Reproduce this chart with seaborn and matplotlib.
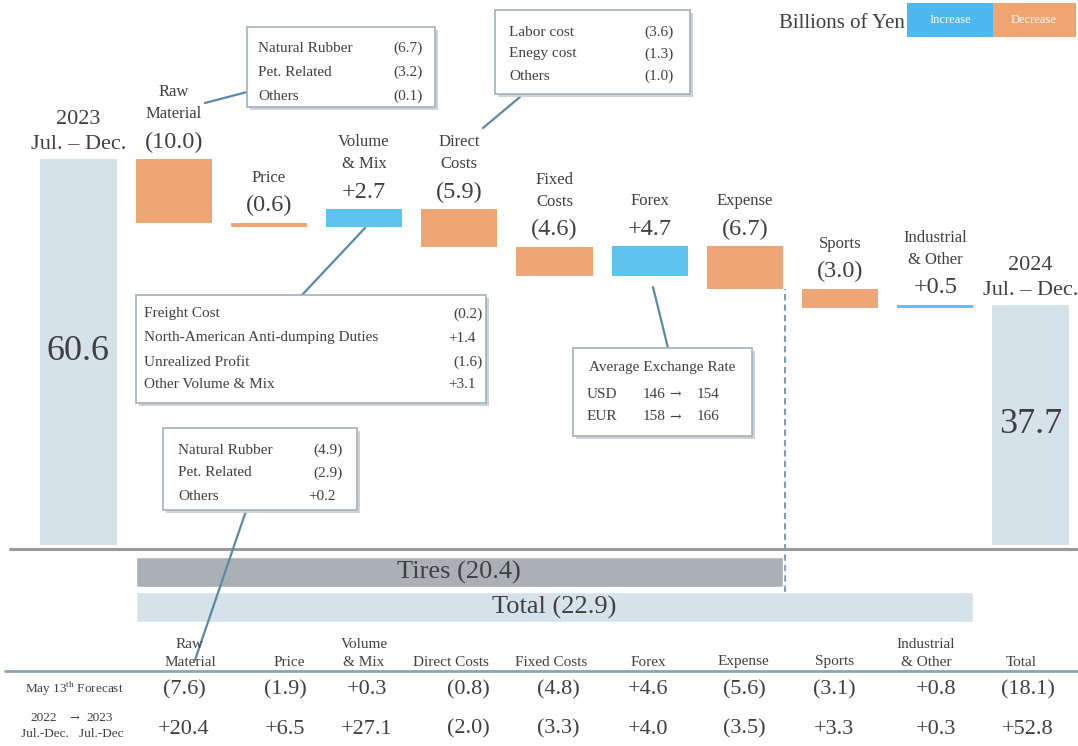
import matplotlib
matplotlib.use("Agg")
import matplotlib.pyplot as plt
import matplotlib.transforms as mtransforms
from matplotlib.patches import Rectangle
import numpy as np
import pandas as pd
import seaborn as sns

# ---------------------------------------------------------------- data
steps = ["2023\nJul. – Dec.", "Raw\nMaterial", "Price", "Volume\n& Mix",
         "Direct\nCosts", "Fixed\nCosts", "Forex", "Expense", "Sports",
         "Industrial\n& Other", "2024\nJul. – Dec."]
start_value = 60.6
changes = [-10.0, -0.6, 2.7, -5.9, -4.6, 4.7, -6.7, -3.0, 0.5]
end_value = 37.7
tires_change = -20.4
total_change = -22.9

raw_items = ["Natural Rubber", "Pet. Related", "Others"]
raw_values = [-6.7, -3.2, -0.1]
direct_items = ["Labor cost", "Enegy cost", "Others"]
direct_values = [-3.6, -1.3, -1.0]
volume_items = ["Freight Cost", "North-American Anti-dumping Duties",
                "Unrealized Profit", "Other Volume & Mix"]
volume_values = [-0.2, 1.4, -1.6, 3.1]
raw_prev_items = ["Natural Rubber", "Pet. Related", "Others"]
raw_prev_values = [-4.9, -2.9, 0.2]
fx_currencies = ["USD", "EUR"]
fx_before = [146, 158]
fx_after = [154, 166]

table_columns = ["Raw\nMaterial", "Price", "Volume\n& Mix", "Direct Costs",
                 "Fixed Costs", "Forex", "Expense", "Sports",
                 "Industrial\n& Other", "Total"]
forecast_may13 = [-7.6, -1.9, 0.3, -0.8, -4.8, 4.6, -5.6, -3.1, 0.8, -18.1]
yoy_2022_2023 = [20.4, 6.5, 27.1, -2.0, -3.3, 4.0, -3.5, 3.3, 0.3, 52.8]

# ---------------------------------------------------------------- style
sns.set_style("white")
plt.rcParams["font.family"] = ["Liberation Serif", "DejaVu Serif"]
plt.rcParams["mathtext.fontset"] = "custom"
plt.rcParams["mathtext.rm"] = "Liberation Serif"

TXT = "#404040"
C_TOTAL = "#d6e2e9"
C_UP = "#5cc4ef"
C_DOWN = "#eea677"
C_TIRES = "#aab0b6"
C_EDGE = "#9fb2bf"
C_LINK = "#5b8aa5"
ARROW_FONT = ["DejaVu Serif"]


def fmt(v):
    return f"({abs(v):.1f})" if v < 0 else f"+{v:.1f}"


# ---------------------------------------------------------------- waterfall geometry
running = np.concatenate([[start_value], start_value + np.cumsum(changes)])
bottoms = [0.0]
heights = [start_value]
colors = [C_TOTAL]
for prev, ch in zip(running[:-1], changes):
    bottoms.append(min(prev, prev + ch))
    heights.append(abs(ch))
    colors.append(C_UP if ch > 0 else C_DOWN)
bottoms.append(0.0)
heights.append(end_value)
colors.append(C_TOTAL)
tops = [b + h for b, h in zip(bottoms, heights)]

df = pd.DataFrame({"step": steps, "height": heights})

W, H = 1078, 746
fig = plt.figure(figsize=(W / 100, H / 100), dpi=100)
ax = fig.add_axes([0, 0, 1, 1])

sns.barplot(data=df, x="step", y="height", order=steps, bottom=bottoms,
            width=0.8, color=C_TOTAL, errorbar=None, ax=ax, zorder=2)
for patch, c in zip(ax.patches, colors):
    patch.set_facecolor(c)
    patch.set_edgecolor("none")

# scale: value 0 sits at pixel row 545, 6.37 px per billion yen
PXU, BASE, STEP, FIRST = 6.37, 545, 95.2, 78.5
ax.set_xlim(-FIRST / STEP, (W - FIRST) / STEP)
ax.set_ylim((BASE - H) / PXU, BASE / PXU)
ax.axis("off")

# pixel coordinates (origin top-left) for annotations
P = mtransforms.Affine2D().scale(1 / W, -1 / H).translate(0, 1) + fig.transFigure


def px_to_val(p):
    return (BASE - p) / PXU


# labels above bars
n = len(steps)
for i, (name, top) in enumerate(zip(steps, tops)):
    lines = name.split("\n")
    if i in (0, n - 1):
        ax.annotate(lines[1], (i, top), xytext=(0, 14 * 0.72), textcoords="offset points",
                    ha="center", va="center", fontsize=16, color=TXT)
        ax.annotate(lines[0], (i, top), xytext=(0, 39 * 0.72), textcoords="offset points",
                    ha="center", va="center", fontsize=16, color=TXT)
        val = start_value if i == 0 else end_value
        ax.text(i, top / 2, f"{val:.1f}", ha="center", va="center",
                fontsize=26, color=TXT, zorder=3)
    else:
        ax.annotate(fmt(changes[i - 1]), (i, top), xytext=(0, 17 * 0.72),
                    textcoords="offset points", ha="center", va="center",
                    fontsize=17.5, color=TXT)
        for k, ln in enumerate(reversed(lines)):
            ax.annotate(ln, (i, top), xytext=(0, (45 + 22 * k) * 0.72),
                        textcoords="offset points", ha="center", va="center",
                        fontsize=12, color=TXT)

# zero line
ax.plot([10, W], [549, 549], color="#9a9a9a", lw=2.2, transform=P, zorder=1)

# segment summary bars (Tires / Total)
seg_rows = [px_to_val(572), px_to_val(607)]
seg_left = 1 - 0.4
seg_right = [7 + 0.4, 9 + 0.4]
ax.barh(seg_rows, [r - seg_left for r in seg_right], left=seg_left,
        height=30 / PXU, color=[C_TIRES, C_TOTAL], zorder=2)
ax.text((seg_left + seg_right[0]) / 2, seg_rows[0], f"Tires {fmt(tires_change)}",
        ha="center", va="center", fontsize=19, color=TXT, zorder=3)
ax.text((seg_left + seg_right[1]) / 2, seg_rows[1], f"Total {fmt(total_change)}",
        ha="center", va="center", fontsize=19, color=TXT, zorder=3)

# dashed divider after Expense
ax.vlines(7 + 0.42, seg_rows[0] - 20 / PXU, running[7], colors="#7f9bb0",
          linestyles=(0, (3, 2)), lw=1.5, zorder=1)


# ---------------------------------------------------------------- callouts
def box(x0, y0, x1, y1):
    fig.add_artist(Rectangle((x0 + 3, y0 + 3), x1 - x0, y1 - y0, transform=P,
                             facecolor="#cfd3d6", edgecolor="none", zorder=4))
    fig.add_artist(Rectangle((x0, y0), x1 - x0, y1 - y0, transform=P,
                             facecolor="white", edgecolor=C_EDGE, lw=1.2, zorder=5))


def link(x0, y0, x1, y1):
    fig.add_artist(plt.Line2D([x0, x1], [y0, y1], transform=P, color=C_LINK,
                              lw=1.6, zorder=3))


def rows(items, values, lx, vx, ys):
    for it, v, y in zip(items, values, ys):
        fig.text(lx, y, it, transform=P, ha="left", va="center",
                 fontsize=11, color=TXT, zorder=6)
        fig.text(vx + (7 if v < 0 else 0), y, fmt(v), transform=P, ha="right",
                 va="center", fontsize=11, color=TXT, zorder=6)


link(205, 103, 247, 92)
box(247, 27, 435, 107)
rows(raw_items, raw_values, 258, 416, [48, 72, 96])

link(520, 97, 483, 128)
box(495, 10, 690, 94)
rows(direct_items, direct_values, 509, 667, [32, 54, 76])

link(302, 295, 365, 228)
box(136, 295, 486, 403)
rows(volume_items, volume_values, 144, 476, [314, 338, 362, 385])

link(653, 287, 668, 348)
box(573, 348, 752, 436)
fig.text(662, 368, "Average Exchange Rate", transform=P, ha="center", va="center",
         fontsize=11, color=TXT, zorder=6)
for cur, a, b, y in zip(fx_currencies, fx_before, fx_after, [394, 417]):
    fig.text(587, y, cur, transform=P, ha="left", va="center", fontsize=11, color=TXT, zorder=6)
    fig.text(643, y, f"{a}", transform=P, ha="left", va="center", fontsize=11, color=TXT, zorder=6)
    fig.text(669, y, "→", transform=P, ha="left", va="center", fontsize=10,
             color=TXT, zorder=6, family=ARROW_FONT)
    fig.text(697, y, f"{b}", transform=P, ha="left", va="center", fontsize=11, color=TXT, zorder=6)

link(247, 508, 195, 660)
box(163, 428, 357, 510)
rows(raw_prev_items, raw_prev_values, 178, 336, [450, 473, 497])

# ---------------------------------------------------------------- unit + legend
fig.text(905, 23, "Billions of Yen", transform=P, ha="right", va="center",
         fontsize=15, color=TXT)
fig.add_artist(Rectangle((907, 3), 86, 34, transform=P, facecolor="#4db7f0", edgecolor="none"))
fig.add_artist(Rectangle((993, 3), 83, 34, transform=P, facecolor="#f0a470", edgecolor="none"))
fig.text(950, 20, "Increase", transform=P, ha="center", va="center", fontsize=9, color="white")
fig.text(1034, 20, "Decrease", transform=P, ha="center", va="center", fontsize=9, color="white")

# ---------------------------------------------------------------- comparison table
head_x = [190, 289, 364, 451, 551, 648, 743, 835, 926, 1021]
val_x = [184, 285, 367, 468, 558, 648, 744, 834, 936, 1028]
for col, hx in zip(table_columns, head_x):
    parts = col.split("\n")
    for k, ln in enumerate(reversed(parts)):
        fig.text(hx, 662 - 18 * k, ln, transform=P, ha="center", va="center",
                 fontsize=11, color=TXT)
fig.add_artist(plt.Line2D([5, W], [671, 671], transform=P, color="#8fa3b3", lw=2))

for v, vx in zip(forecast_may13, val_x):
    fig.text(vx, 690, fmt(v), transform=P, ha="center", va="center", fontsize=16, color=TXT)
for v, vx in zip(yoy_2022_2023, val_x):
    fig.text(vx, 729, fmt(v), transform=P, ha="center", va="center", fontsize=16, color=TXT)

fig.text(74, 689, r"May 13$^{\mathrm{th}}$ Forecast", transform=P, ha="center",
         va="center", fontsize=9.5, color=TXT)
fig.text(44, 718, "2022", transform=P, ha="center", va="center", fontsize=9.5, color=TXT)
fig.text(69, 718, "→", transform=P, ha="left", va="center", fontsize=8.5,
         color=TXT, family=ARROW_FONT)
fig.text(100, 718, "2023", transform=P, ha="center", va="center", fontsize=9.5, color=TXT)
fig.text(72, 734, "Jul.-Dec.   Jul.-Dec", transform=P, ha="center", va="center",
         fontsize=9.5, color=TXT)

fig.savefig("out.png", dpi=100, facecolor="white")
